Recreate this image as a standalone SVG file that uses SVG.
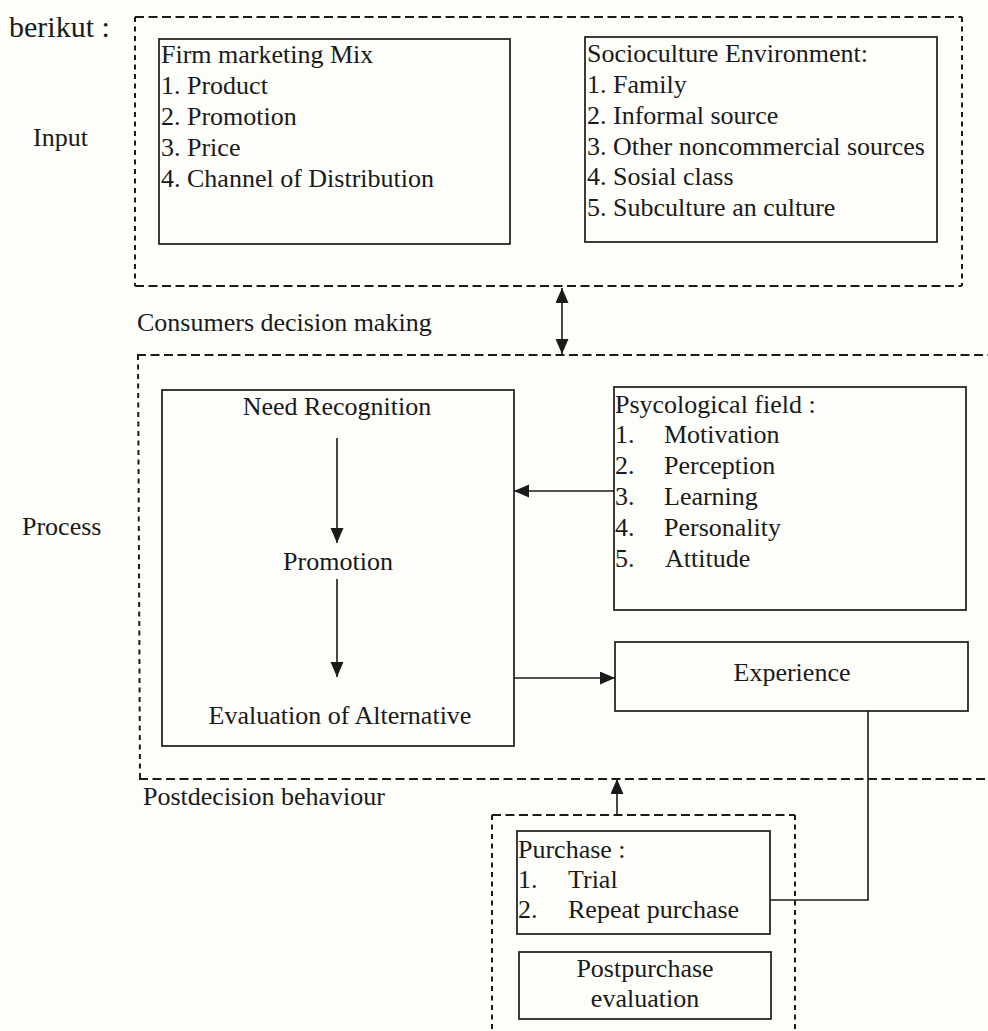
<svg xmlns="http://www.w3.org/2000/svg" width="988" height="1031" viewBox="0 0 988 1031">
<style>
text{font-family:"Liberation Serif","Times New Roman",serif;font-size:26px;fill:#1a1a1a}
.box{fill:none;stroke:#1a1a1a;stroke-width:1.7}
.dh{fill:none;stroke:#1a1a1a;stroke-width:1.8;stroke-dasharray:9,4.5}
.dv{fill:none;stroke:#1a1a1a;stroke-width:2;stroke-dasharray:5,4.5}
.ln{fill:none;stroke:#1a1a1a;stroke-width:1.6}
.mid{text-anchor:middle}
</style>
<defs>
<marker id="ah" markerUnits="userSpaceOnUse" markerWidth="15" markerHeight="14" refX="15" refY="6.5" orient="auto-start-reverse">
<path d="M0,0 L15,6.5 L0,13 Z" fill="#1a1a1a"/>
</marker>
</defs>
<rect width="988" height="1031" fill="#fdfdf9"/>

<g id="labels">
<text x="9" y="37" style="font-size:30px">berikut :</text>
<text x="33" y="146">Input</text>
<text x="137" y="331">Consumers decision making</text>
<text x="22" y="535">Process</text>
<text x="143" y="805">Postdecision behaviour</text>
</g>

<g id="input-frame">
<line class="dh" x1="135" y1="17" x2="962" y2="17"/>
<line class="dh" x1="135" y1="286" x2="962" y2="286"/>
<line class="dv" x1="135" y1="17" x2="135" y2="286"/>
<line class="dv" x1="962" y1="17" x2="962" y2="286"/>
</g>

<g id="process-frame">
<line class="dh" x1="137" y1="355" x2="988" y2="355"/>
<line class="dh" x1="139" y1="779" x2="988" y2="779"/>
<line class="dv" x1="138" y1="355" x2="140" y2="779"/>
</g>

<g id="purchase-frame">
<line class="dh" x1="492" y1="815" x2="795" y2="815"/>
<line class="dv" x1="492" y1="815" x2="492" y2="1031"/>
<line class="dv" x1="795" y1="815" x2="795" y2="1031"/>
</g>

<g id="firm-marketing-mix">
<rect class="box" x="159" y="39" width="351" height="205"/>
<text x="161" y="63">Firm marketing Mix</text>
<text x="161" y="94">1. Product</text>
<text x="161" y="125">2. Promotion</text>
<text x="161" y="156">3. Price</text>
<text x="161" y="187">4. Channel of Distribution</text>
</g>

<g id="socioculture">
<rect class="box" x="585" y="37" width="352" height="205"/>
<text x="587" y="62">Socioculture Environment:</text>
<text x="587" y="93">1. Family</text>
<text x="587" y="124">2. Informal source</text>
<text x="587" y="155">3. Other noncommercial sources</text>
<text x="587" y="185">4. Sosial class</text>
<text x="587" y="216">5. Subculture an culture</text>
</g>

<g id="decision-process">
<rect class="box" x="162" y="390" width="352" height="356"/>
<text class="mid" x="337" y="415">Need Recognition</text>
<text class="mid" x="338" y="570">Promotion</text>
<text class="mid" x="340" y="724">Evaluation of Alternative</text>
</g>

<g id="psychological-field">
<rect class="box" x="614" y="387" width="352" height="223"/>
<text x="615" y="413">Psycological field :</text>
<text x="615" y="443">1.</text><text x="664" y="443">Motivation</text>
<text x="615" y="474">2.</text><text x="664" y="474">Perception</text>
<text x="615" y="505">3.</text><text x="664" y="505">Learning</text>
<text x="615" y="536">4.</text><text x="664" y="536">Personality</text>
<text x="615" y="567">5.</text><text x="665" y="567">Attitude</text>
</g>

<g id="experience">
<rect class="box" x="615" y="642" width="353" height="69"/>
<text class="mid" x="792" y="681">Experience</text>
</g>

<g id="purchase">
<rect class="box" x="517" y="831" width="253" height="103"/>
<text x="518" y="858">Purchase :</text>
<text x="518" y="888">1.</text><text x="568" y="888">Trial</text>
<text x="518" y="918">2.</text><text x="568" y="918">Repeat purchase</text>
</g>

<g id="postpurchase">
<rect class="box" x="519" y="952" width="252" height="67"/>
<text class="mid" x="645" y="977">Postpurchase</text>
<text class="mid" x="645" y="1007">evaluation</text>
</g>

<g id="connectors">
<line class="ln" x1="562" y1="288" x2="562" y2="354" marker-start="url(#ah)" marker-end="url(#ah)"/>
<line class="ln" x1="337" y1="438" x2="337" y2="543" marker-end="url(#ah)"/>
<line class="ln" x1="337" y1="579" x2="337" y2="677" marker-end="url(#ah)"/>
<line class="ln" x1="614" y1="491" x2="514" y2="491" marker-end="url(#ah)"/>
<line class="ln" x1="514" y1="678" x2="615" y2="678" marker-end="url(#ah)"/>
<polyline class="ln" points="868,711 868,900 770,900"/>
<line class="ln" x1="617" y1="815" x2="617" y2="779" marker-end="url(#ah)"/>
</g>
</svg>
